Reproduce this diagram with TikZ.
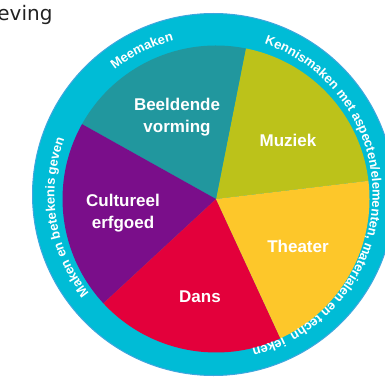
\documentclass[tikz,border=0pt]{standalone}
\usepackage{fontspec}
\setmainfont{Liberation Sans}
\newfontfamily\dejavu{DejaVu Sans}
\usetikzlibrary{decorations.text}
\definecolor{ringcyan}{HTML}{00BCD6}
\definecolor{ringedge}{HTML}{3FA6DE}
\definecolor{cteal}{HTML}{21979E}
\definecolor{colive}{HTML}{BCC21A}
\definecolor{cyellow}{HTML}{FDC72A}
\definecolor{cred}{HTML}{E3003B}
\definecolor{cpurple}{HTML}{7A0E8A}
\definecolor{textgray}{HTML}{222222}
\newcommand\ringfont{\fontsize{13}{15}\selectfont\bfseries}
\begin{document}
\begin{tikzpicture}[x=1pt,y=1pt,
  seclabel/.style={text=white,font=\fontsize{17}{21.5}\selectfont\bfseries,align=center,inner sep=0pt},
  ringtext/.style={decorate,decoration={text along path,text color=white,text align=center,text={|\ringfont|#1}}}]
\useasboundingbox (0,0) rectangle (385,378);
\coordinate (R) at (213.5,183.5);
\coordinate (P) at (216,179);
\fill[ringcyan,draw=ringedge,line width=1pt] (R) circle[radius=181];
\foreach \a/\c in {6.8/colive,78.8/cteal,150.8/cpurple,222.8/cred,294.8/cyellow}
  \fill[\c] (P) -- ++(\a:153.5) arc[start angle=\a,end angle=\a+72,radius=153.5] -- cycle;
\node[seclabel] (bv) at (177,261) {Beeldende\\vorming};
\node[seclabel] (mu) at (288,238) {Muziek};
\node[seclabel] (th) at (298,132) {Theater};
\node[seclabel] (da) at (200,81) {Dans};
\node[seclabel] (ce) at (123,165) {Cultureel\\erfgoed};
\path[ringtext={Meemaken}] ([shift={(150:159)}]R) arc[start angle=150,end angle=83,radius=159];
\path[ringtext={Kennismaken met aspecten/elementen, materialen en techn}] ([shift={(80:159)}]R) arc[start angle=80,end angle=-70,radius=159];
\path[ringtext={ieken}] ([shift={(-55:159)}]R) arc[start angle=-55,end angle=-85,radius=159];
\path[ringtext={Maken en betekenis geven}] ([shift={(235:159)}]R) arc[start angle=235,end angle=143,radius=159];
\node[anchor=base west,inner sep=0pt,font=\dejavu\fontsize{20}{24}\selectfont,text=textgray] (omg) at (-15.5,357) {geving};
\end{tikzpicture}
\end{document}
